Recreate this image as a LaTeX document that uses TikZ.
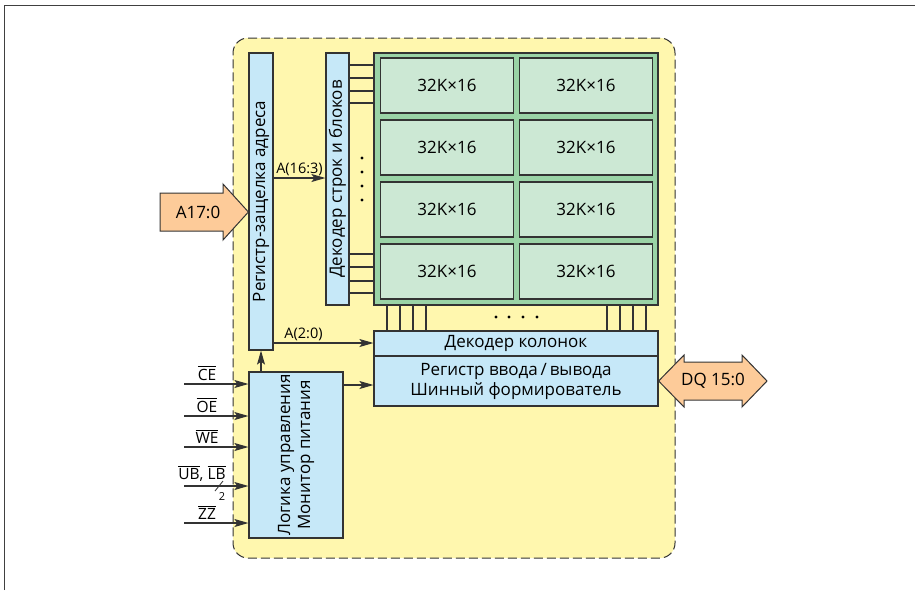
\documentclass[tikz,border=0pt]{standalone}
\usepackage{amsmath}
\usepackage{fontspec}
\setmainfont{Open Sans}
\usetikzlibrary{arrows.meta,calc}
\definecolor{cBody}{HTML}{FFF7AE}
\definecolor{cBlk} {HTML}{C6E8F8}
\definecolor{cArr} {HTML}{9AD3A6}
\definecolor{cCell}{HTML}{CCE8D4}
\definecolor{cPin} {HTML}{FDCB99}
\definecolor{cLine}{HTML}{333333}
\newcommand{\ovl}[1]{$\overline{\text{#1}}$}
\tikzset{
  body/.style  ={draw=cLine,fill=cBody,line width=1pt,dash pattern=on 9pt off 4pt,
                 rounded corners=15pt,inner sep=0pt},
  blk/.style   ={draw=cLine,fill=cBlk,line width=1.2pt,inner sep=0pt,
                 font=\fontsize{17}{20}\selectfont,align=center},
  arrblk/.style={blk,fill=cArr},
  cell/.style  ={blk,fill=cCell,minimum width=133pt,minimum height=55pt},
  vtxt/.style  ={rotate=90,font=\fontsize{17}{20}\selectfont,align=center},
  wire/.style  ={draw=cLine,line width=1.1pt},
  sig/.style   ={wire,-{Stealth[length=14pt,width=8pt,inset=3pt]}},
  pin/.style   ={draw=cLine,fill=cPin,line width=1pt},
  pintxt/.style={font=\fontsize{17}{19}\selectfont,inner sep=0pt},
  lbl/.style   ={font=\fontsize{14.5}{16}\selectfont,inner sep=2pt},
  sigl/.style  ={font=\fontsize{15.5}{17}\selectfont,inner sep=0pt,anchor=base},
  dot/.style   ={circle,fill=black,inner sep=0pt,minimum size=3.2pt},
}

\begin{document}
\begin{tikzpicture}[x=1pt,y=1pt]
\useasboundingbox (0,0) rectangle (915,-590);

% ===== sheet frame and chip body =========================================
\draw[line width=1pt,black!75] (4,-590) -- (4,-5) -- (915,-5);
\node[body,minimum width=442pt,minimum height=520pt] (chip) at (454,-298) {};

% ===== address path ======================================================
\node[blk,minimum width=24pt,minimum height=297pt] (latch)  at (261,-201.5) {};
\node[vtxt] (latchtxt) at (latch) {Регистр-защелка адреса};
\node[blk,minimum width=23pt,minimum height=252pt] (rowdec) at (337.5,-179) {};
\node[vtxt] (rowdectxt) at (rowdec) {Декодер строк и блоков};

\coordinate (yA) at (0,-178);
\draw[sig] (latch.east|-yA) -- node[lbl,above]{A(16:3)} (rowdec.west|-yA);

% ===== memory array ======================================================
\node[arrblk,minimum width=284pt,minimum height=252pt] (arr) at (516,-179) {};
\foreach \r in {1,...,4}
  \foreach \c/\x in {1/447,2/586}
    \node[cell] (m\r\c) at (\x,{-85.5-62*(\r-1)}) {32K×16};

% row lines into the array
\foreach \y in {65,78,91,103,254,267,281,293} {
  \coordinate (t) at (0,-\y);
  \draw[wire] (rowdec.east|-t) -- (arr.west|-t);
}
\foreach \y in {158,172,186,200}
  \node[dot] at (362,-\y) {};

% ===== column decoder and I/O ============================================
\node[blk,minimum width=284pt,minimum height=25pt] (coldec) at (516,-343.5) {Декодер колонок};
\node[blk,minimum width=284pt,minimum height=50pt] (iob)    at (516,-381)
  {Регистр ввода\,/\,вывода\\ Шинный формирователь};

\foreach \x in {387,400,413,426,607,620,633,646} {
  \coordinate (t) at (\x,0);
  \draw[wire] (arr.south-|t) -- (coldec.north-|t);
}
\foreach \x in {496,509,523,537}
  \node[dot] at (\x,-317) {};

\coordinate (yB) at (0,-343);
\draw[sig] (latch.east|-yB) -- node[lbl,above,pos=0.3]{A(2:0)} (coldec.west|-yB);

% ===== control logic =====================================================
\node[blk,minimum width=94pt,minimum height=166pt] (ctl) at (296,-455) {};
\node[vtxt] (ctltxt) at (ctl) {Логика управления\\ Монитор питания};
\draw[sig] (latch.south|-ctl.north) -- (latch.south);
\coordinate (yC) at (0,-385);
\draw[sig] (ctl.east|-yC) -- (iob.west|-yC);

\foreach \n/\y/\t in {ce/384/CE,oe/416/OE,we/447/WE,zz/523/ZZ} {
  \coordinate (\n) at (184,-\y);
  \draw[sig] (\n) -- (ctl.west|-\n);
  \node[sigl] (\n txt) at ($(\n)+(23,4)$) {\ovl{\t}};
}
\coordinate (ub) at (184,-486);
\draw[sig] (ub) -- (ctl.west|-ub);
\node[sigl] (ubtxt) at ($(ub)+(18,7)$) {\ovl{UB}, \ovl{LB}};
\draw[wire,line width=0.8pt] ($(ub)+(31,-5)$) -- ($(ub)+(39,5)$);
\node[font=\fontsize{11}{12}\selectfont,inner sep=0pt] (ubn) at ($(ub)+(38,-11)$) {2};

% ===== pins ==============================================================
\path[pin] (160,-193) -- (223,-193) -- (223,-184) -- (latch.west|-0,-212)
  -- (223,-240) -- (223,-231) -- (160,-231) -- cycle;
\node[pintxt] (ain) at (198,-212) {A17:0};
\path[pin] (iob.east|-0,-381) -- (684,-355) -- (684,-362) -- (742,-362) -- (742,-355)
  -- (767,-381) -- (742,-407) -- (742,-400) -- (684,-400) -- (684,-407) -- cycle;
\node[pintxt] (dq) at (713,-381) {DQ 15:0};
\end{tikzpicture}
\end{document}
